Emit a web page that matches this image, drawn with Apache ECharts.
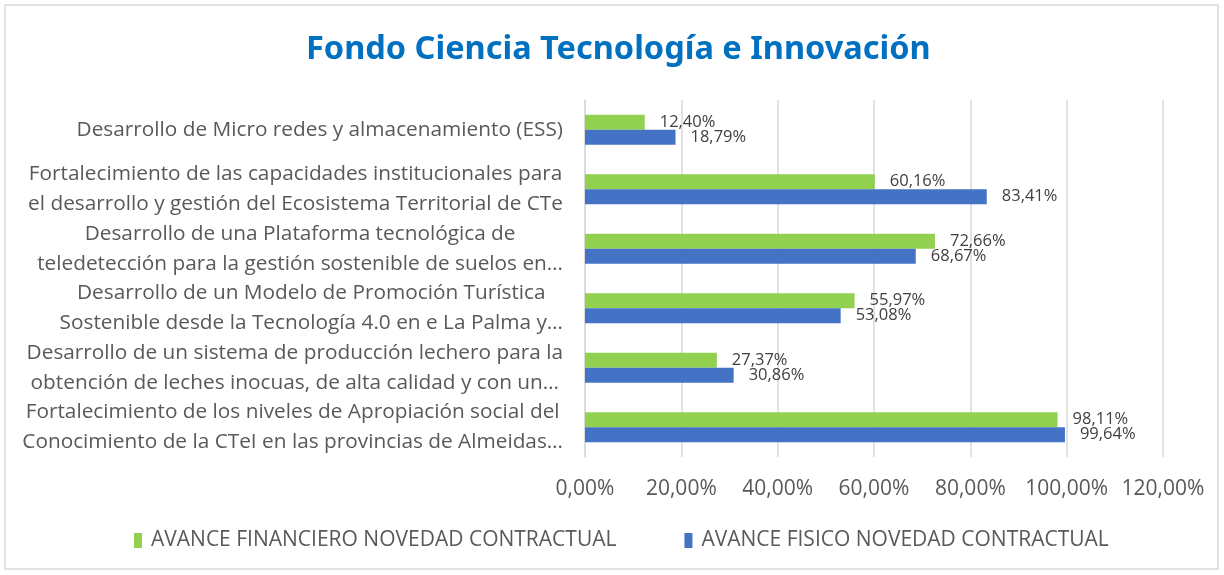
<!DOCTYPE html>
<html>
<head>
<meta charset="utf-8">
<script src="https://cdn.jsdelivr.net/npm/echarts@6/dist/echarts.min.js"></script>
<style>
  html, body { margin: 0; padding: 0; background: #fff; }
  #chart { width: 1224px; height: 575px; }
</style>
</head>
<body>
<div id="chart"></div>
<script>
// Project names, top to bottom, as shown (wrapped / shortened)
const categories = [
  'Desarrollo de Micro redes y almacenamiento (ESS)',
  'Fortalecimiento de las capacidades institucionales para\nel desarrollo y gestión del Ecosistema Territorial de CTe',
  'Desarrollo de una Plataforma tecnológica de\nteledetección para la gestión sostenible de suelos en…',
  'Desarrollo de un Modelo de Promoción Turística\nSostenible desde la Tecnología 4.0 en e La Palma y…',
  'Desarrollo de un sistema de producción lechero para la\nobtención de leches inocuas, de alta calidad y con un…',
  'Fortalecimiento de los niveles de Apropiación social del\nConocimiento de la CTeI en las provincias de Almeidas…'
];
// Progress percentages
const avanceFinanciero = [12.40, 60.16, 72.66, 55.97, 27.37, 98.11];
const avanceFisico = [18.79, 83.41, 68.67, 53.08, 30.86, 99.64];
const seriesNames = ['AVANCE FINANCIERO NOVEDAD CONTRACTUAL', 'AVANCE FISICO NOVEDAD CONTRACTUAL'];
const xTicks = { min: 0, max: 120, interval: 20 };

const pct = v => Number(v).toFixed(2).replace('.', ',') + '%';
const FONT = 'Open Sans';
const TEXT = '#595959';

// Wrapped category names: block sits against the axis, lines centred within it
const catLabel = v => v.split('\n').map(s => '{c|' + s + '}').join('\n');

const barLabel = {
  show: true, position: 'right', distance: 15,
  formatter: p => pct(p.value),
  color: '#404040', fontSize: 16.5, fontFamily: FONT
};

const chart = echarts.init(document.getElementById('chart'), null, { renderer: 'canvas' });
chart.setOption({
  animation: false,
  backgroundColor: '#ffffff',
  title: {
    text: 'Fondo Ciencia Tecnología e Innovación',
    left: 301,
    top: 28,
    textStyle: { color: '#0070C0', fontSize: 32.5, fontWeight: 'bold', fontFamily: 'Noto Sans' }
  },
  graphic: [{
    type: 'rect',
    shape: { x: 5, y: 5, width: 1213, height: 564 },
    style: { fill: 'none', stroke: '#d9d9d9', lineWidth: 1.5 },
    silent: true
  }],
  legend: {
    bottom: 19,
    left: 129,
    itemWidth: 8,
    itemHeight: 15,
    itemGap: 68,
    icon: 'rect',
    textStyle: { color: TEXT, fontSize: 21, fontFamily: FONT, padding: [0, 0, 0, 4] }
  },
  grid: { left: 585, right: 61, top: 100, bottom: 118, containLabel: false },
  xAxis: {
    type: 'value',
    min: xTicks.min, max: xTicks.max, interval: xTicks.interval,
    axisLine: { show: false },
    axisTick: { show: false },
    splitLine: { lineStyle: { color: '#d9d9d9', width: 1.5 } },
    axisLabel: { formatter: pct, color: TEXT, fontSize: 21, fontFamily: FONT, margin: 22 }
  },
  yAxis: {
    type: 'category',
    data: categories,
    inverse: true,
    axisLine: { show: true, lineStyle: { color: '#d9d9d9', width: 1.5 } },
    axisTick: { show: false },
    axisLabel: {
      interval: 0, margin: 22, align: 'right',
      formatter: catLabel,
      color: TEXT, fontSize: 20.8, fontFamily: FONT, lineHeight: 30,
      rich: { c: { align: 'center', color: TEXT, fontSize: 20.8, fontFamily: FONT, lineHeight: 30 } }
    }
  },
  series: [
    {
      name: seriesNames[0], type: 'bar', data: avanceFinanciero,
      barWidth: 15, barGap: '0%',
      itemStyle: { color: '#92D050' },
      label: barLabel
    },
    {
      name: seriesNames[1], type: 'bar', data: avanceFisico,
      barWidth: 15, barGap: '0%',
      itemStyle: { color: '#4472C4' },
      label: barLabel
    }
  ]
});
</script>
</body>
</html>
